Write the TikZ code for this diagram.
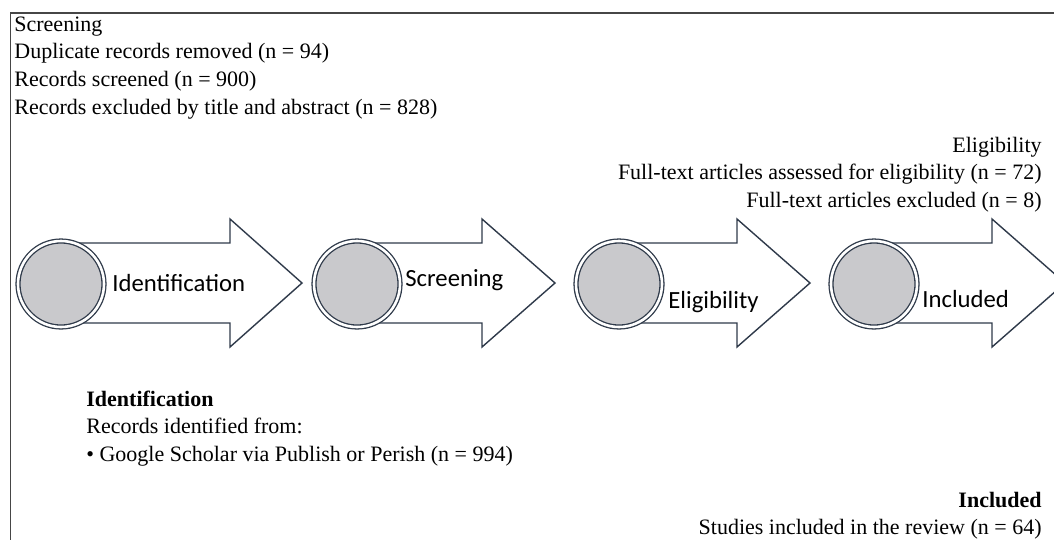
\documentclass[tikz,border=0pt]{standalone}
\usepackage{fontspec}
\setmainfont{Liberation Serif}
\newfontfamily\stagefont{Carlito}
\usetikzlibrary{positioning}
\definecolor{stageline}{RGB}{47,58,74}
\definecolor{stagegray}{RGB}{201,201,204}
\definecolor{frameline}{RGB}{70,70,70}

\begin{document}
\begin{tikzpicture}[x=1pt, y=-1pt, thick,
    info/.style={inner sep=0pt, text height=19pt, text depth=8pt, font=\fontsize{22}{27}\selectfont},
    infohead/.style={info, font=\fontsize{22}{27}\selectfont\bfseries},
    stagearrow/.style={draw=stageline, line width=1.4pt, fill=white, line join=miter},
    ring/.style={circle, draw=stageline, double=white, double distance=2.6pt, line width=1.3pt,
                 fill=stagegray, minimum size=86pt, inner sep=0pt},
    stagelabel/.style={inner sep=0pt, anchor=base west, font=\stagefont\fontsize{24.7}{30}\selectfont}]

\useasboundingbox (0,0) rectangle (1054,539);
\clip (0,0) rectangle (1054,539);

% frame
\draw[frameline, line width=1.2pt] (10.7,545) |- (1060,13);

% stage arrows
\draw[stagearrow] (61,243) -- (230,243) -- (230,219) -- (302,283) -- (230,347) -- (230,323) -- (61,323) -- cycle;
\draw[stagearrow] (357,243) -- (482,243) -- (482,219) -- (555,283) -- (482,347) -- (482,323) -- (357,323) -- cycle;
\draw[stagearrow] (619,243) -- (737,243) -- (737,219) -- (810,283) -- (737,347) -- (737,323) -- (619,323) -- cycle;
\draw[stagearrow] (874,243) -- (992,243) -- (992,219) -- (1065,283) -- (992,347) -- (992,323) -- (874,323) -- cycle;

\node[ring] (c1) at (61,284) {};
\node[ring] (c2) at (357,284) {};
\node[ring] (c3) at (619,284) {};
\node[ring] (c4) at (874,284) {};

\node[stagelabel] (l1) at (112,291) {Identification};
\node[stagelabel] (l2) at (405,286) {Screening};
\node[stagelabel] (l3) at (668,308) {Eligibility};
\node[stagelabel] (l4) at (922,307) {Included};

% screening
\node[info, anchor=base west] (s1) at (14,31) {Screening};
\node[info, below=0pt of s1.south west, anchor=north west] (s2) {Duplicate records removed (n = 94)};
\node[info, below=0pt of s2.south west, anchor=north west] (s3) {Records screened (n = 900)};
\node[info, below=0pt of s3.south west, anchor=north west] (s4) {Records excluded by title and abstract (n = 828)};

% eligibility
\node[info, anchor=base east] (e1) at (1042,152) {Eligibility};
\node[info, below=0pt of e1.south east, anchor=north east] (e2) {Full-text articles assessed for eligibility (n = 72)};
\node[info, below=0pt of e2.south east, anchor=north east] (e3) {Full-text articles excluded (n = 8)};

% identification
\node[infohead, anchor=base west] (i1) at (86,406) {Identification};
\node[info, below=0pt of i1.south west, anchor=north west] (i2) {Records identified from:};
\node[info, below=0pt of i2.south west, anchor=north west] (i3) {• Google Scholar via Publish or Perish (n = 994)};

% included
\node[infohead, anchor=base east] (n1) at (1042,507) {Included};
\node[info, below=0pt of n1.south east, anchor=north east] (n2) {Studies included in the review (n = 64)};
\end{tikzpicture}
\end{document}
